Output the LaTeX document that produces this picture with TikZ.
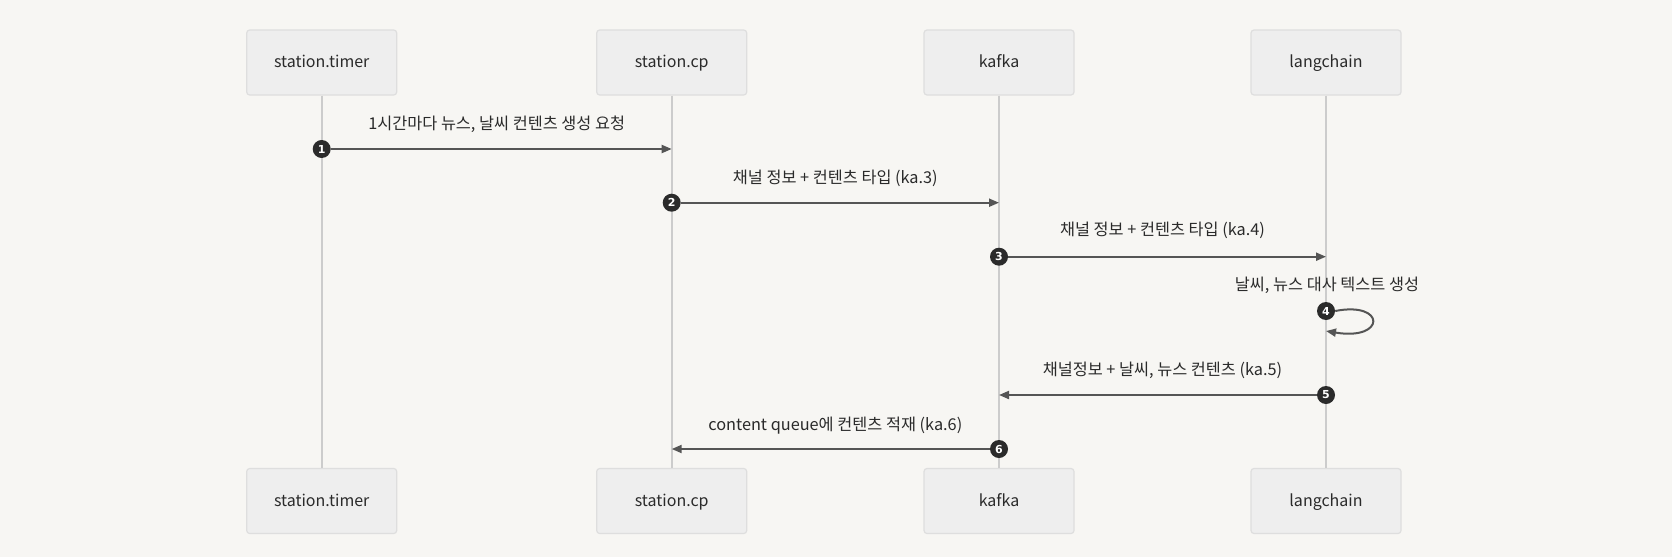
\documentclass[tikz,border=0pt]{standalone}
\usepackage{fontspec}
\setmainfont{Noto Sans CJK KR}
\newfontfamily\numfont{DejaVu Sans}
\usetikzlibrary{arrows.meta}
\definecolor{bg}{HTML}{F7F6F3}
\definecolor{boxfill}{HTML}{EEEEEE}
\definecolor{boxline}{HTML}{DEDEDE}
\definecolor{lifeline}{HTML}{CCCCCC}
\definecolor{msgline}{HTML}{555555}
\definecolor{txt}{HTML}{2A2A2A}
\definecolor{numfill}{HTML}{2B2B2B}
\tikzset{
  actor/.style={draw=boxline, fill=boxfill, rounded corners=3pt, minimum width=150pt, minimum height=65pt, line width=1.2pt, font=\fontsize{16}{19}\selectfont, text=txt, inner sep=0pt, text height=13.5pt, text depth=3.5pt},
  life/.style={draw=lifeline, line width=2pt},
  msg/.style={draw=msgline, line width=2pt, -{Triangle[length=10pt,width=8pt]}},
  num/.style={circle, fill=numfill, minimum size=18pt, inner sep=0pt, text=white, font=\numfont\bfseries\fontsize{11}{12}\selectfont},
  lbl/.style={font=\fontsize{16.3}{19}\selectfont, text=txt, inner sep=0pt, text height=14pt, text depth=3.5pt}
}
\begin{document}
\begin{tikzpicture}[x=1pt,y=-1pt]
\useasboundingbox[fill=bg] (0,0) rectangle (1672,557);
% actors
\node[actor] (t1) at (321.7,62.5) {station.timer};
\node[actor] (t2) at (671.7,62.5) {station.cp};
\node[actor] (t3) at (999,62.5) {kafka};
\node[actor] (t4) at (1326,62.5) {langchain};
\node[actor] (b1) at (321.7,501) {station.timer};
\node[actor] (b2) at (671.7,501) {station.cp};
\node[actor] (b3) at (999,501) {kafka};
\node[actor] (b4) at (1326,501) {langchain};
% lifelines
\draw[life] (t1.south) -- (b1.north);
\draw[life] (t2.south) -- (b2.north);
\draw[life] (t3.south) -- (b3.north);
\draw[life] (t4.south) -- (b4.north);
% message end points
\coordinate (e1) at (671.7,149);
\coordinate (e2) at (999,202.7);
\coordinate (e3) at (1326,256.7);
\coordinate (e4) at (1326,331);
\coordinate (e5) at (999,395);
\coordinate (e6) at (671.7,449);
% number circles
\node[num] (n1) at (321.7,149) {1};
\node[num] (n2) at (671.7,202.7) {2};
\node[num] (n3) at (999,256.7) {3};
\node[num] (n4) at (1326,311) {4};
\node[num] (n5) at (1326,395) {5};
\node[num] (n6) at (999,449) {6};
% messages
\draw[msg] (n1) -- (e1);
\draw[msg] (n2) -- (e2);
\draw[msg] (n3) -- (e3);
\draw[msg] (n4.east) .. controls (1386,301) and (1386,341) .. (e4);
\draw[msg] (n5) -- (e5);
\draw[msg] (n6) -- (e6);
% labels
\node[lbl] (l1) at (496.7,124.3) {1시간마다 뉴스, 날씨 컨텐츠 생성 요청};
\node[lbl] (l2) at (835.3,178.3) {채널 정보 + 컨텐츠 타입 (ka.3)};
\node[lbl] (l3) at (1162.5,230.5) {채널 정보 + 컨텐츠 타입 (ka.4)};
\node[lbl] (l4) at (1327,285) {날씨, 뉴스 대사 텍스트 생성};
\node[lbl] (l5) at (1162.5,370.7) {채널정보 + 날씨, 뉴스 컨텐츠 (ka.5)};
\node[lbl] (l6) at (835.3,425) {content queue에 컨텐츠 적재 (ka.6)};
\end{tikzpicture}
\end{document}
